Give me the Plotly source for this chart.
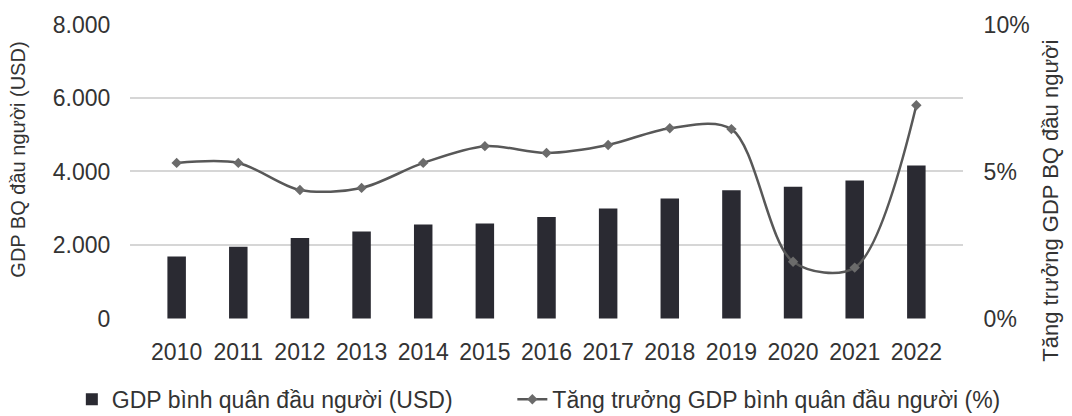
import plotly.graph_objects as go

years = ["2010", "2011", "2012", "2013", "2014", "2015", "2016",
         "2017", "2018", "2019", "2020", "2021", "2022"]
gdp_per_capita = [1684, 1953, 2190, 2367, 2558, 2582, 2760,
                  2992, 3267, 3491, 3586, 3756, 4163]
growth_pct = [5.29, 5.29, 4.37, 4.44, 5.29, 5.86, 5.63,
              5.90, 6.47, 6.44, 1.93, 1.73, 7.25]
left_ticks = [0, 2000, 4000, 6000, 8000]
right_ticks = [0, 5, 10]
right_tick_text = ["0%", "5%", "10%"]

font_family = "Liberation Sans, Arial, sans-serif"
text_color = "#333333"

y_lo, y_hi = -15, 8012
fig = go.Figure()
fig.add_trace(go.Bar(
    x=years, y=gdp_per_capita,
    name="GDP bình quân đầu người (USD)",
    marker=dict(color="#2a2a32", line=dict(width=0)),
    yaxis="y", legend="legend",
))
fig.add_trace(go.Scatter(
    x=years, y=growth_pct,
    name="Tăng trưởng GDP bình quân đầu người (%)",
    mode="lines+markers",
    line=dict(color="#585858", width=2.5, shape="spline", smoothing=0.9),
    marker=dict(symbol="diamond", size=8, color="#6b6b6b"),
    yaxis="y2", legend="legend2",
))

legend_common = dict(orientation="h", xref="container", xanchor="left",
                     yref="paper", y=-0.272, yanchor="middle",
                     font=dict(size=23), itemwidth=30,
                     bgcolor="rgba(0,0,0,0)")

fig.update_layout(
    width=1064, height=408,
    margin=dict(l=122, r=109, t=16, b=97, autoexpand=False),
    paper_bgcolor="white", plot_bgcolor="white",
    separators=",.",
    font=dict(family=font_family, size=23, color=text_color),
    bargap=0.7,
    showlegend=True,
    legend=dict(x=0.060, **legend_common),
    legend2=dict(x=0.474, **legend_common),
    xaxis=dict(type="category", showgrid=False, showline=False,
               ticks="outside", ticklen=12, tickcolor="rgba(0,0,0,0)",
               tickfont=dict(size=23), automargin=False),
    yaxis=dict(range=[y_lo, y_hi], tickvals=left_ticks,
               tickformat=",d", automargin=False,
               showgrid=True, gridcolor="#d6d6d6", gridwidth=1.5,
               zeroline=False, showline=False,
               ticks="outside", ticklen=14, tickcolor="rgba(0,0,0,0)",
               tickfont=dict(size=23)),
    yaxis2=dict(range=[y_lo / 800, y_hi / 800], tickvals=right_ticks,
                ticktext=right_tick_text, overlaying="y", automargin=False,
                side="right", showgrid=False, zeroline=False, showline=False,
                ticks="outside", ticklen=15, tickcolor="rgba(0,0,0,0)",
                tickfont=dict(size=23)),
    annotations=[
        dict(text="GDP BQ đầu người (USD)",
             xref="paper", yref="paper", x=-0.1345, y=0.54,
             xanchor="center", yanchor="middle", textangle=-90,
             showarrow=False, font=dict(size=20, color=text_color)),
        dict(text="Tăng trưởng GDP BQ đầu người",
             xref="paper", yref="paper", x=1.104, y=0.40,
             xanchor="center", yanchor="middle", textangle=-90,
             showarrow=False, font=dict(size=22, color=text_color)),
    ],
)

fig.write_html("out.html")
